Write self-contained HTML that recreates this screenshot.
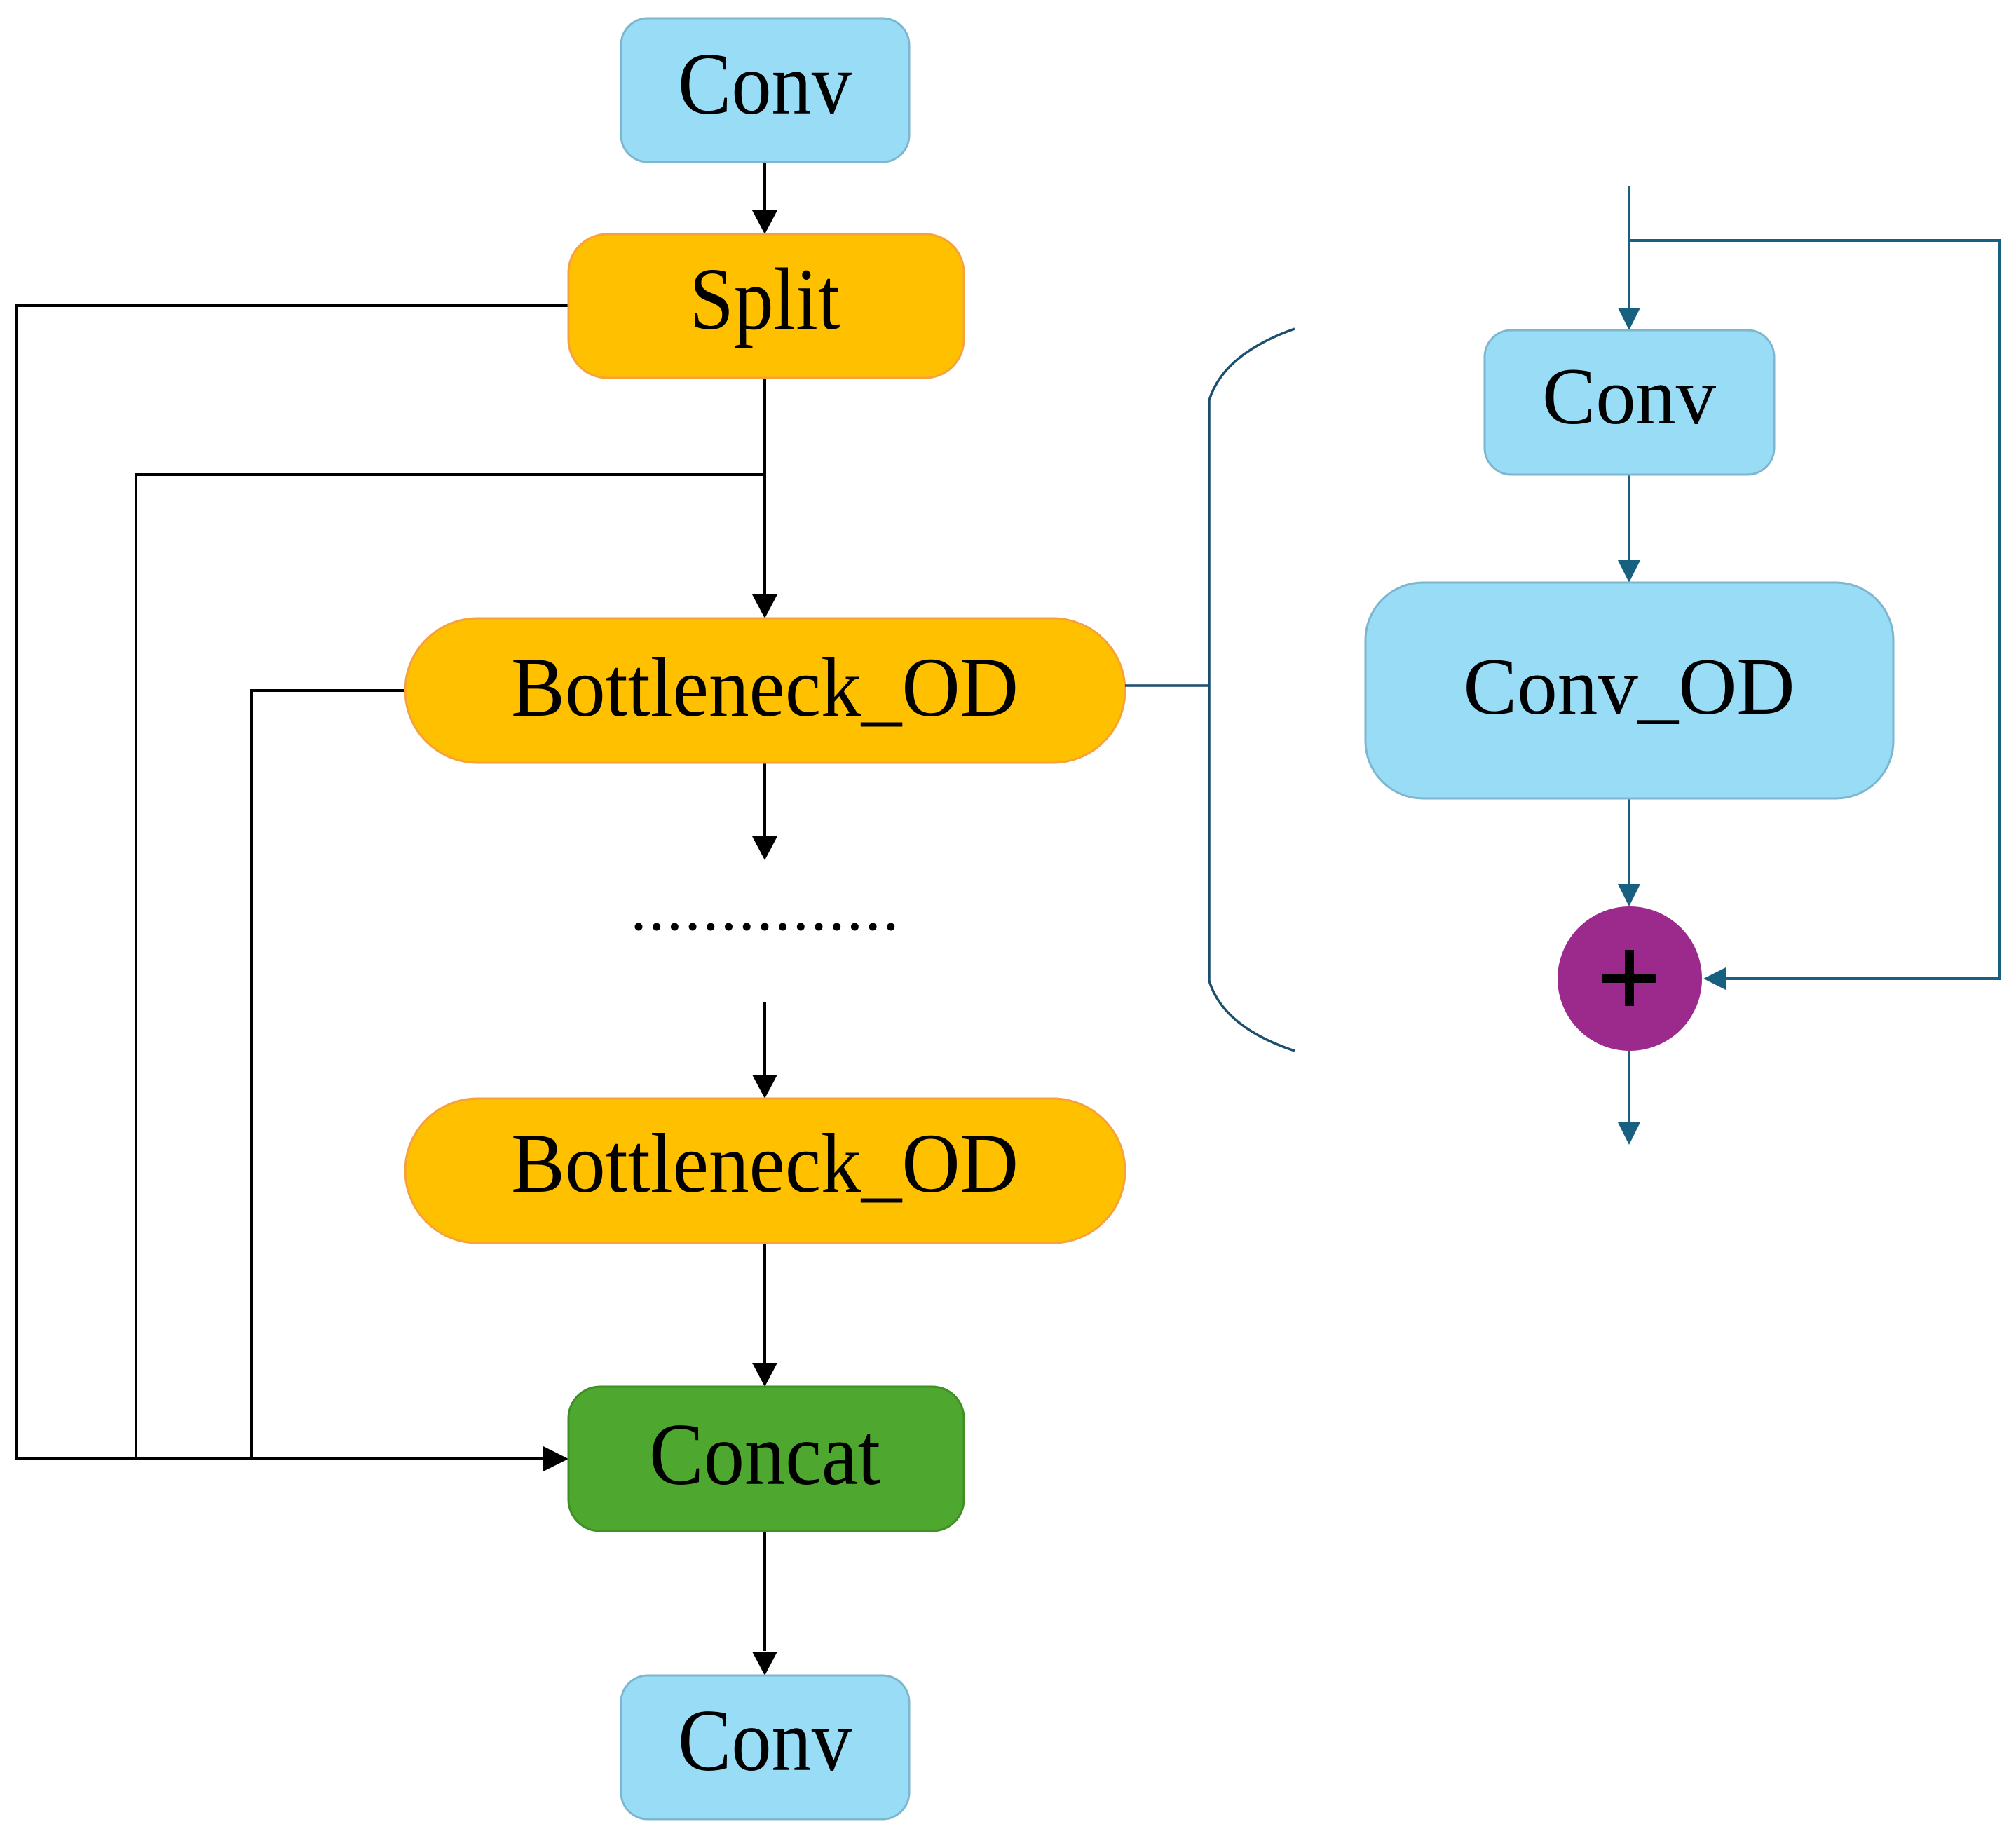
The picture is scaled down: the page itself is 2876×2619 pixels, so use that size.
<!DOCTYPE html>
<html><head><meta charset="utf-8"><style>html,body{margin:0;padding:0;background:#fff}svg{display:block}</style></head>
<body>
<svg width="2876" height="2619" viewBox="0 0 2876 2619" xmlns="http://www.w3.org/2000/svg">
<style>
.bl{stroke:#000;stroke-width:4;fill:none}
.tl{stroke:#17607f;stroke-width:4;fill:none}
text{font-family:"Liberation Serif",serif;fill:#000}
</style>
<!-- left black connectors -->
<g class="bl">
<path d="M1091 231 V300"/>
<path d="M1091 539 V850"/>
<path d="M811 436 H23 V2081 H780"/>
<path d="M1091 677 H194 V2081"/>
<path d="M578 985 H359 V2081"/>
<path d="M1091 1088 V1195"/>
<path d="M1091 1429 V1535"/>
<path d="M1091 1773 V1945"/>
<path d="M1091 2184 V2355"/>
</g>
<g fill="#000">
<path d="M1073 300 L1109 300 L1091 334 z"/>
<path d="M1073 848 L1109 848 L1091 882 z"/>
<path d="M1073 1193 L1109 1193 L1091 1227 z"/>
<path d="M1073 1533 L1109 1533 L1091 1567 z"/>
<path d="M1073 1944 L1109 1944 L1091 1978 z"/>
<path d="M1073 2356 L1109 2356 L1091 2390 z"/>
<path d="M775 2063 L775 2099 L811 2081 z"/>
</g>
<!-- dots -->
<g fill="#000">
<circle cx="911" cy="1322" r="5.5"/><circle cx="936.7" cy="1322" r="5.5"/><circle cx="962.4" cy="1322" r="5.5"/><circle cx="988.1" cy="1322" r="5.5"/><circle cx="1013.8" cy="1322" r="5.5"/><circle cx="1039.5" cy="1322" r="5.5"/><circle cx="1065.2" cy="1322" r="5.5"/><circle cx="1090.9" cy="1322" r="5.5"/><circle cx="1116.6" cy="1322" r="5.5"/><circle cx="1142.3" cy="1322" r="5.5"/><circle cx="1168" cy="1322" r="5.5"/><circle cx="1193.7" cy="1322" r="5.5"/><circle cx="1219.4" cy="1322" r="5.5"/><circle cx="1245.1" cy="1322" r="5.5"/><circle cx="1270.8" cy="1322" r="5.5"/>
</g>
<!-- left boxes -->
<rect x="886" y="26" width="411" height="205" rx="38" fill="#99dcf6" stroke="#7db6cf" stroke-width="3"/>
<text x="1091" y="162" font-size="126" text-anchor="middle" textLength="248" lengthAdjust="spacingAndGlyphs">Conv</text>
<rect x="811" y="334" width="564" height="205" rx="55" fill="#ffc000" stroke="#f7a13a" stroke-width="3"/>
<text x="1091" y="469" font-size="126" text-anchor="middle" textLength="215" lengthAdjust="spacingAndGlyphs">Split</text>
<rect x="578" y="882" width="1027" height="206" rx="103" fill="#ffc000" stroke="#f7a13a" stroke-width="3"/>
<text x="1091" y="1021" font-size="121" text-anchor="middle" textLength="724" lengthAdjust="spacingAndGlyphs">Bottleneck_OD</text>
<rect x="578" y="1567" width="1027" height="206" rx="103" fill="#ffc000" stroke="#f7a13a" stroke-width="3"/>
<text x="1091" y="1700" font-size="121" text-anchor="middle" textLength="724" lengthAdjust="spacingAndGlyphs">Bottleneck_OD</text>
<rect x="811" y="1978" width="564" height="206" rx="45" fill="#4ea72e" stroke="#3f8f25" stroke-width="3"/>
<text x="1091" y="2117" font-size="126" text-anchor="middle" textLength="330" lengthAdjust="spacingAndGlyphs">Concat</text>
<rect x="886" y="2390" width="411" height="205" rx="38" fill="#99dcf6" stroke="#7db6cf" stroke-width="3"/>
<text x="1091" y="2525" font-size="126" text-anchor="middle" textLength="248" lengthAdjust="spacingAndGlyphs">Conv</text>
<!-- brace -->
<g stroke="#1a4f6e" stroke-width="3.5" fill="none">
<path d="M1605 978 H1725"/>
<path d="M1847 469 Q1745 505 1725 571 V1399 Q1745 1465 1847 1499"/>
</g>
<!-- right teal -->
<g class="tl">
<path d="M2324 266 V440"/>
<path d="M2324 343 H2852 V1396 H2462"/>
<path d="M2324 677 V800"/>
<path d="M2324 1139 V1262"/>
<path d="M2324 1499 V1602"/>
</g>
<g fill="#17607f">
<path d="M2308 439 L2340 439 L2324 471 z"/>
<path d="M2308 799 L2340 799 L2324 831 z"/>
<path d="M2308 1261 L2340 1261 L2324 1293 z"/>
<path d="M2308 1601 L2340 1601 L2324 1633 z"/>
<path d="M2462 1380 L2462 1412 L2430 1396 z"/>
</g>
<rect x="2118" y="471" width="413" height="206" rx="38" fill="#99dcf6" stroke="#7db6cf" stroke-width="3"/>
<text x="2324" y="604" font-size="116" text-anchor="middle" textLength="248" lengthAdjust="spacingAndGlyphs">Conv</text>
<rect x="1948" y="831" width="753" height="308" rx="82" fill="#99dcf6" stroke="#7db6cf" stroke-width="3"/>
<text x="2324" y="1018" font-size="116" text-anchor="middle" textLength="473" lengthAdjust="spacingAndGlyphs">Conv_OD</text>
<circle cx="2325" cy="1396" r="103" fill="#9c2a8c"/>
<rect x="2286" y="1389" width="76" height="13" fill="#000"/>
<rect x="2318" y="1355" width="13" height="80" fill="#000"/>
</svg>
</body></html>
